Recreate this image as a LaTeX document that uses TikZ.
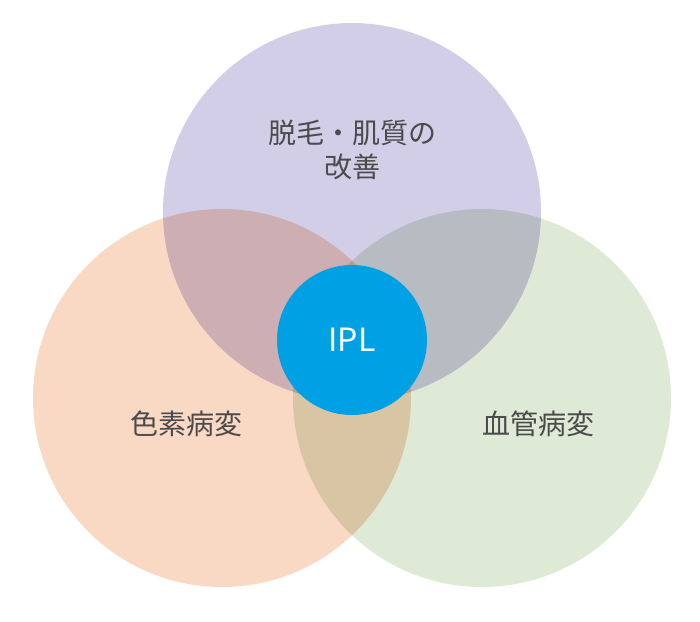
\documentclass[tikz,border=0pt]{standalone}
\usepackage{fontspec}
\newfontfamily\cjk{Noto Sans CJK JP}
\definecolor{lav}{RGB}{210,206,232}
\definecolor{peach}{RGB}{249,216,196}
\definecolor{sage}{RGB}{222,233,214}
\definecolor{ipl}{RGB}{0,160,228}
\definecolor{txt}{RGB}{75,75,75}
\begin{document}
\begin{tikzpicture}[x=1pt,y=-1pt,
  venn/.style={circle,minimum size=378pt,inner sep=0pt},
  lbl/.style={font=\cjk\fontsize{28}{34}\selectfont,text=txt,align=center}]
\useasboundingbox (0,0) rectangle (700,621);
\begin{scope}[blend group=multiply]
\node[venn,fill=lav] (top) at (352,212) {};
\node[venn,fill=peach] (left) at (222,398) {};
\node[venn,fill=sage] (right) at (482,398) {};
\end{scope}
\node[circle,fill=ipl,minimum size=150pt,inner sep=0pt,text=white,font=\cjk\fontsize{32}{36}\selectfont] (c) at (352,340) {IPL};
\node[lbl] (t1) at (352,150) {脱毛・肌質の\\改善};
\node[lbl] (t2) at (186,424) {色素病変};
\node[lbl] (t3) at (538,424) {血管病変};
\end{tikzpicture}
\end{document}
